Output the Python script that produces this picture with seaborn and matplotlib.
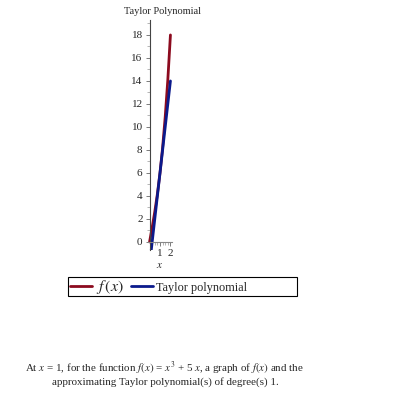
import numpy as np
import pandas as pd
import matplotlib
matplotlib.use("Agg")
import matplotlib.pyplot as plt
from matplotlib.patches import Rectangle
from matplotlib.ticker import MultipleLocator
import seaborn as sns

# values
x_vals = [0, 0.25, 0.5, 0.75, 1, 1.25, 1.5, 1.75, 2]
f_vals = [0, 1.27, 2.63, 4.17, 6, 8.2, 10.88, 14.11, 18]
taylor_vals = [-2, 0, 2, 4, 6, 8, 10, 12, 14]
series_names = ["f(x)", "Taylor polynomial"]
series_colors = ["#8c0a1e", "#0b1a8c"]

sns.set_style("white")
plt.rcParams["font.family"] = ["Liberation Serif", "DejaVu Serif"]
plt.rcParams["mathtext.fontset"] = "stix"

data = pd.DataFrame({
    "x": x_vals * 2,
    "y": f_vals + taylor_vals,
    "curve": [series_names[0]] * len(x_vals) + [series_names[1]] * len(x_vals),
})

fig = plt.figure(figsize=(3.95, 3.95), dpi=100)
ax = fig.add_axes([148 / 395, (395 - 250) / 395, 24 / 395, 230 / 395])

sns.lineplot(data=data, x="x", y="y", hue="curve", palette=series_colors,
             linewidth=2, ax=ax, legend=False, sort=False)

ax.set_xlim(-0.15, 2.15)
ax.set_ylim(-0.7, 19.3)
for s in ["top", "right"]:
    ax.spines[s].set_visible(False)
ax.spines["left"].set_position(("data", 0))
ax.spines["bottom"].set_position(("data", 0))
ax.spines["left"].set_color("#444444")
ax.spines["bottom"].set_color("#888888")
ax.spines["left"].set_linewidth(0.8)
ax.spines["bottom"].set_linewidth(0.8)

ax.set_xticks([1, 2])
ax.set_yticks(range(0, 19, 2))
ax.yaxis.set_minor_locator(MultipleLocator(1))
ax.xaxis.set_minor_locator(MultipleLocator(0.25))
ax.tick_params(axis="both", which="major", labelsize=8, length=3, width=0.6,
               color="#666666", left=True, bottom=True, pad=2)
ax.tick_params(axis="both", which="minor", length=2, width=0.5,
               color="#999999", left=True, bottom=True)
ax.set_xlabel("")
ax.set_ylabel("")

fig.text(162 / 395, 1 - 11 / 395, "Taylor Polynomial", ha="center", va="center",
         fontsize=7.5)
fig.text(160 / 395, 1 - 265 / 395, "$x$", ha="center", va="center", fontsize=8)

# legend with a plain rectangular box
fig.patches.append(Rectangle((68 / 395, 1 - 296 / 395), 229 / 395, 19 / 395,
                             transform=fig.transFigure, fill=False,
                             edgecolor="black", linewidth=0.8))
handles = [plt.Line2D([], [], color=c, linewidth=2) for c in series_colors]
leg = fig.legend(handles, ["$f\\,(x)$", "Taylor polynomial"], loc="center left",
                 bbox_to_anchor=(70 / 395, 1 - 286.5 / 395), ncol=2, frameon=False,
                 fontsize=8.8, handlelength=1.8, handletextpad=0.3,
                 columnspacing=0.6, borderpad=0, borderaxespad=0)
leg.get_texts()[0].set_fontsize(11.5)

fig.text(25 / 395, 1 - 368 / 395,
         "At $x$ = 1, for the function $f(x)$ = $x^3$ + 5 $x$, a graph of $f(x)$ and the",
         ha="left", va="center", fontsize=7.9)
fig.text(52 / 395, 1 - 382 / 395,
         "approximating Taylor polynomial(s) of degree(s) 1.",
         ha="left", va="center", fontsize=7.9)

fig.savefig("out.png", dpi=100)
